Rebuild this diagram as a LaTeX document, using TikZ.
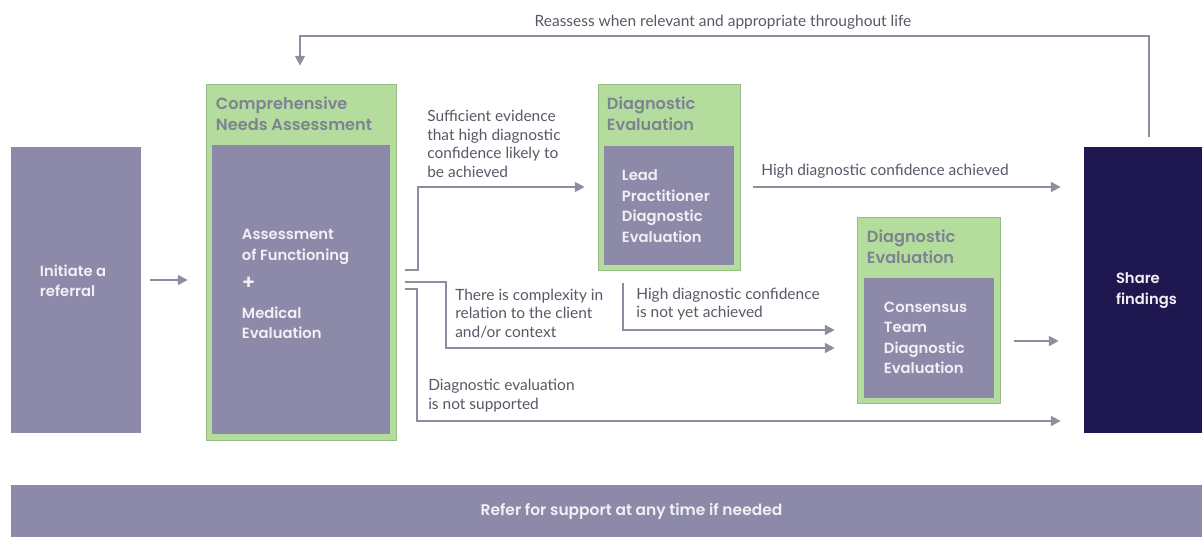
\documentclass[tikz,border=0pt]{standalone}
\usepackage{fontspec}
\setmainfont{Lato}
\newfontfamily\boxfont{Poppins}[BoldFont={Poppins SemiBold}]
\usepackage{xcolor}
\usepackage{tikz}
\usetikzlibrary{arrows.meta, positioning, calc}

\definecolor{boxpurple}{HTML}{8C89A9}
\definecolor{panelgreen}{HTML}{B4DC9C}
\definecolor{navy}{HTML}{1F1750}
\definecolor{boxwhite}{HTML}{F0F0F5}
\definecolor{titlegray}{HTML}{7C8393}
\definecolor{notegray}{HTML}{585866}
\definecolor{linegray}{HTML}{8E8C9E}

\begin{document}
\begin{tikzpicture}[
    x=0.025cm, y=-0.025cm,
    panel/.style={fill=panelgreen, draw=panelgreen!85!black, line width=0.4pt, inner sep=0pt},
    box/.style={fill=boxpurple, draw=none, inner sep=0pt},
    boxtext/.style={anchor=west, inner sep=0pt, align=left, text=boxwhite, font=\boxfont\fontsize{10.5}{14.6}\selectfont\bfseries},
    title/.style={anchor=west, inner sep=0pt, align=left, text=titlegray, font=\boxfont\fontsize{11.5}{14.4}\selectfont\bfseries},
    note/.style={anchor=west, inner sep=0pt, align=left, text=notegray, font=\fontsize{11}{13.3}\selectfont},
    arrow/.style={-{Triangle[length=7pt, width=7pt]}, line width=1.4pt, draw=linegray}
]
    \useasboundingbox (0,0) rectangle (1202,537);
    \clip (0,0) rectangle (1202,537);

    % Step 1
    \node[box, minimum width=3.25cm, minimum height=7.15cm] (referral) at (76,290) {};
    \node[boxtext] (referraltext) at ([shift={(29,-9)}]referral.west) {Initiate a\\referral};

    % Step 2
    \node[panel, minimum width=4.75cm, minimum height=8.9cm] (cna) at (301,262) {};
    \node[title] (cnatitle) at ([shift={(10,30)}]cna.north west) {Comprehensive\\Needs Assessment};
    \node[box, minimum width=4.45cm, minimum height=7.225cm] (cnabox) at (301,289.5) {};
    \node[boxtext] (cnatext) at ([shift={(30,-5.5)}]cnabox.west) {Assessment\\of Functioning\\[6pt]{\Large +}\\[6pt]Medical\\Evaluation};

    % Step 3
    \node[panel, minimum width=3.55cm, minimum height=4.65cm] (lead) at (669,177) {};
    \node[title] (leadtitle) at ([shift={(9,30)}]lead.north west) {Diagnostic\\Evaluation};
    \node[box, minimum width=3.25cm, minimum height=2.975cm] (leadbox) at (669,205.5) {};
    \node[boxtext] (leadtext) at ([shift={(18,0.5)}]leadbox.west) {Lead\\Practitioner\\Diagnostic\\Evaluation};

    % Step 4
    \node[panel, minimum width=3.575cm, minimum height=4.65cm] (cons) at (928.5,310) {};
    \node[title] (constitle) at ([shift={(10,30)}]cons.north west) {Diagnostic\\Evaluation};
    \node[box, minimum width=3.25cm, minimum height=3cm] (consbox) at (929,338) {};
    \node[boxtext] (constext) at ([shift={(20,0)}]consbox.west) {Consensus\\Team\\Diagnostic\\Evaluation};

    % Step 5
    \node[box, fill=navy, minimum width=3.2cm, minimum height=7.15cm] (share) at (1148,290) {};
    \node[boxtext] (sharetext) at ([shift={(32,0.5)}]share.west) {Share\\findings};

    % support bar
    \node[box, minimum width=31.025cm, minimum height=1.275cm] (support) at (631.5,511.5) {};
    \draw[linegray, line width=0.8pt] (support.north west) -- (support.north east);
    \node[boxtext, anchor=center, font=\boxfont\fontsize{11}{14}\selectfont\bfseries] (supporttext) at (support.center) {Refer for support at any time if needed};

    % connectors
    \draw[arrow] ([shift={(9,-10)}]referral.east) -- ([shift={(-18,18)}]cna.west);
    \draw[arrow] ([shift={(9,8)}]cna.east) -- ++(13,0) |- ([shift={(-13,10)}]lead.west);
    \draw[arrow] ([shift={(9,20)}]cna.east) -- ++(41,0) |- ([shift={(-22,38)}]cons.west);
    \draw[arrow] ([shift={(9,27)}]cna.east) -- ++(12,0) |- ([shift={(-23,131)}]share.west);
    \draw[arrow] ([shift={(-46,13)}]lead.south) |- ([shift={(-22,20)}]cons.west);
    \draw[arrow] ([shift={(13,10)}]lead.east) -- ([shift={(-23,-103)}]share.west);
    \draw[arrow] ([shift={(14,31)}]cons.east) -- ([shift={(-25,51)}]share.west);
    \draw[arrow] ([shift={(1,-10)}]share.north) -- ++(0,-101) -| ([shift={(-1,-18)}]cna.north);

    % labels
    \node[note, anchor=center] (reassess) at (723,22) {Reassess when relevant and appropriate throughout life};
    \node[note] (sufficient) at (427,144) {Sufficient evidence\\that high diagnostic\\confidence likely to\\be achieved};
    \node[note] (complexity) at (455,313.5) {There is complexity in\\relation to the client\\and/or context};
    \node[note] (notsupported) at (428,395.5) {Diagnostic evaluation\\is not supported};
    \node[note] (notyet) at (636,304) {High diagnostic confidence\\is not yet achieved};
    \node[note] (achieved) at (761,171) {High diagnostic confidence achieved};
\end{tikzpicture}
\end{document}
